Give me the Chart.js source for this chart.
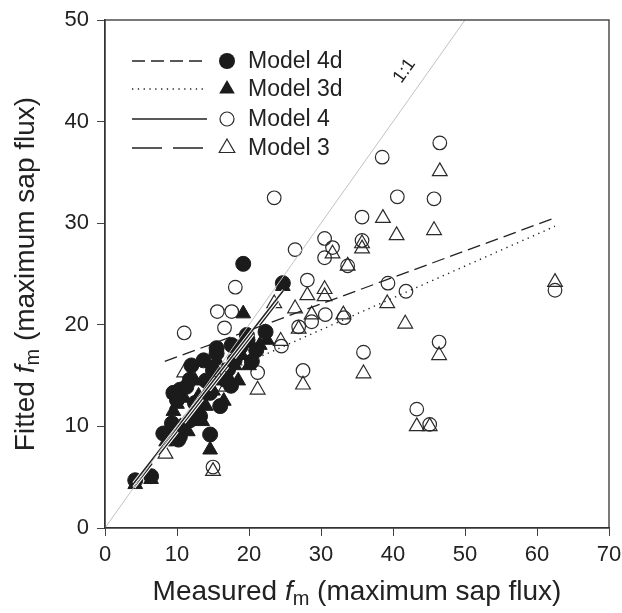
<!DOCTYPE html>
<html>
<head>
<meta charset="utf-8">
<script src="https://cdn.jsdelivr.net/npm/chart.js@4.4.1/dist/chart.umd.min.js"></script>
<style>
  html, body { margin: 0; padding: 0; background: #fff; }
  #wrap { width: 622px; height: 613px; }
</style>
</head>
<body>
<div id="wrap"><canvas id="chart" width="622" height="613"></canvas></div>
<script>
'use strict';

// Values: [measured, fitted]
var model4d = [
    [4.2, 4.7], [6.4, 5.1], [8.1, 9.3], [8.8, 9.2], [9.3, 10.3], [10.2, 8.7],
    [10.4, 9.0], [9.5, 13.3], [10.0, 12.6], [10.4, 13.6], [11.3, 13.9], [11.8, 10.6],
    [12.5, 12.3], [13.2, 11.0], [13.2, 12.6], [11.8, 14.6], [13.7, 16.5], [14.6, 13.3],
    [14.6, 9.2], [15.5, 17.2], [16.7, 14.6], [17.1, 15.6], [18.8, 17.8], [19.7, 19.0],
    [20.4, 16.4], [19.8, 18.5], [22.3, 19.3], [19.2, 26.0], [24.7, 24.1], [15.0, 15.5],
    [16.0, 12.0], [17.5, 14.0], [12.0, 16.0], [14.0, 14.5], [18.0, 16.5], [21.0, 17.5],
    [17.6, 18.0], [15.5, 17.7]
];
var model3d = [
    [4.2, 4.3], [6.4, 4.8], [19.2, 21.1], [24.7, 23.8], [14.6, 7.7], [8.5, 8.5],
    [9.5, 11.5], [10.0, 12.2], [11.0, 12.8], [12.0, 11.0], [13.0, 13.0], [14.0, 12.0],
    [15.0, 13.5], [16.0, 14.5], [17.0, 15.0], [18.0, 16.0], [19.0, 17.0], [20.0, 16.0],
    [21.5, 18.0], [22.5, 18.5], [12.5, 14.5], [15.5, 16.5], [10.5, 10.0], [9.0, 9.8],
    [11.5, 9.5], [13.5, 10.5], [16.5, 12.5], [18.5, 14.5]
];
var model4 = [
    [46.5, 37.9], [38.5, 36.5], [23.5, 32.5], [40.6, 32.6], [45.7, 32.4], [35.7, 30.6],
    [30.5, 28.5], [31.6, 27.6], [30.5, 26.6], [35.7, 28.3], [33.7, 25.8], [26.4, 27.4],
    [28.1, 24.4], [18.1, 23.7], [39.3, 24.1], [41.8, 23.3], [15.6, 21.3], [17.6, 21.3],
    [16.6, 19.7], [11.0, 19.2], [30.6, 21.0], [28.7, 20.3], [26.9, 19.8], [33.2, 20.7],
    [24.5, 17.9], [35.9, 17.3], [27.5, 15.5], [21.2, 15.3], [46.4, 18.3], [43.3, 11.7],
    [45.1, 10.2], [62.5, 23.4], [15.0, 6.0]
];
var model3 = [
    [46.5, 35.1], [38.6, 30.5], [40.5, 28.8], [45.7, 29.3], [35.7, 28.0], [35.7, 27.5],
    [31.6, 27.0], [33.7, 25.8], [30.5, 23.5], [30.5, 22.8], [28.1, 22.9], [23.5, 22.1],
    [26.4, 21.6], [28.7, 21.0], [33.1, 21.0], [26.9, 19.6], [24.4, 18.4], [39.2, 22.1],
    [41.7, 20.1], [35.9, 15.2], [27.5, 14.1], [21.2, 13.6], [16.8, 13.9], [11.0, 15.3],
    [8.4, 7.3], [15.0, 5.6], [46.4, 17.0], [43.3, 10.0], [45.1, 10.0], [62.5, 24.2]
];

// Fitted lines, start and end points
var fit4d = [[8.3, 16.4], [62.4, 30.5]];
var fit3d = [[8.6, 12.8], [62.5, 29.7]];
var fit4 = [[4.0, 4.4], [24.8, 23.4]];
var fit3 = [[4.0, 4.0], [24.4, 22.6]];
var oneToOne = [[0, 0], [50, 50]];

var legendNames = ['Model 4d', 'Model 3d', 'Model 4', 'Model 3'];
var xTicks = [0, 10, 20, 30, 40, 50, 60, 70];
var yTicks = [0, 10, 20, 30, 40, 50];

var FONT = '"Liberation Sans", Arial, Helvetica, sans-serif';
var INK = '#222';

var dashes = [[13, 6], [1.3, 4.5], [], [30, 11]];
var markers = [
    { style: 'circle', r: 7.5, fill: true },
    { style: 'triangle', r: 8.5, fill: true },
    { style: 'circle', r: 6.8, fill: false },
    { style: 'triangle', r: 8.5, fill: false }
];

function toPts(arr) {
    return arr.map(function (p) { return { x: p[0], y: p[1] }; });
}

function scatterSet(arr, i, order) {
    var m = markers[i];
    return {
        type: 'scatter',
        label: legendNames[i],
        data: toPts(arr),
        pointStyle: m.style,
        pointRadius: m.r,
        pointBorderWidth: m.fill ? 1 : 1.2,
        pointBackgroundColor: m.fill ? '#1b1b1b' : 'rgba(0,0,0,0)',
        pointBorderColor: m.fill ? '#1b1b1b' : '#2a2a2a',
        order: order
    };
}

function lineSet(arr, dash, color, width, order) {
    return {
        type: 'line',
        data: toPts(arr),
        borderColor: color,
        borderWidth: width,
        borderDash: dash,
        pointRadius: 0,
        fill: false,
        tension: 0,
        order: order
    };
}

// draws the legend, the frame, the 1:1 label and the axis titles
var decor = {
    id: 'decor',
    afterDraw: function (chart) {
        var ctx = chart.ctx;
        var a = chart.chartArea;
        var xs = chart.scales.x, ys = chart.scales.y;
        ctx.save();

        // frame
        ctx.strokeStyle = '#333';
        ctx.lineWidth = 1.3;
        ctx.setLineDash([]);
        ctx.strokeRect(a.left, a.top, a.right - a.left, a.bottom - a.top);

        // legend
        var rows = [61, 89, 119, 148];
        for (var i = 0; i < legendNames.length; i++) {
            var y = rows[i];
            ctx.strokeStyle = INK;
            ctx.lineWidth = 1.3;
            ctx.setLineDash(dashes[i]);
            ctx.beginPath();
            ctx.moveTo(132, y);
            ctx.lineTo(207, y);
            ctx.stroke();
            ctx.setLineDash([]);

            var m = markers[i];
            var mx = 227;
            ctx.beginPath();
            if (m.style === 'circle') {
                ctx.arc(mx, y, m.fill ? 8 : 7, 0, Math.PI * 2);
            } else {
                var r = 9;
                ctx.moveTo(mx, y - r);
                ctx.lineTo(mx + r * 0.866, y + r * 0.5);
                ctx.lineTo(mx - r * 0.866, y + r * 0.5);
                ctx.closePath();
            }
            if (m.fill) {
                ctx.fillStyle = '#1b1b1b';
                ctx.fill();
            } else {
                ctx.lineWidth = 1.2;
                ctx.strokeStyle = '#2a2a2a';
                ctx.stroke();
            }

            ctx.fillStyle = INK;
            ctx.font = '23px ' + FONT;
            ctx.textAlign = 'left';
            ctx.textBaseline = 'middle';
            ctx.fillText(legendNames[i], 248, y + 1);
        }

        // 1:1 label along the gray line
        var lx = xs.getPixelForValue(41.6), ly = ys.getPixelForValue(45.0);
        var ang = Math.atan2(ys.getPixelForValue(50) - ys.getPixelForValue(0),
            xs.getPixelForValue(50) - xs.getPixelForValue(0));
        ctx.save();
        ctx.translate(lx, ly);
        ctx.rotate(ang);
        ctx.font = '18px ' + FONT;
        ctx.fillStyle = INK;
        ctx.textAlign = 'center';
        ctx.textBaseline = 'middle';
        ctx.fillText('1:1', 0, 0);
        ctx.restore();

        // axis titles with italic f and subscript m
        function rich(parts, x, y, rot) {
            ctx.save();
            ctx.translate(x, y);
            ctx.rotate(rot);
            ctx.textBaseline = 'alphabetic';
            ctx.textAlign = 'left';
            ctx.fillStyle = INK;
            var total = 0;
            parts.forEach(function (p) { ctx.font = p.font; total += ctx.measureText(p.t).width; });
            var cx = -total / 2;
            parts.forEach(function (p) {
                ctx.font = p.font;
                ctx.fillText(p.t, cx, p.dy || 0);
                cx += ctx.measureText(p.t).width;
            });
            ctx.restore();
        }
        var big = '28px ' + FONT, ital = 'italic 28px ' + FONT, sub = '20px ' + FONT;
        var midX = (a.left + a.right) / 2, midY = (a.top + a.bottom) / 2;
        rich([{ t: 'Measured ', font: big }, { t: 'f', font: ital }, { t: 'm', font: sub, dy: 5 },
            { t: ' (maximum sap flux)', font: big }], midX, 600, 0);
        rich([{ t: 'Fitted ', font: big }, { t: 'f', font: ital }, { t: 'm', font: sub, dy: 5 },
            { t: ' (maximum sap flux)', font: big }], 34, midY, -Math.PI / 2);

        ctx.restore();
    }
};

var tickFont = { family: FONT, size: 22 };

new Chart(document.getElementById('chart'), {
    data: {
        datasets: [
            lineSet(oneToOne, [], '#c2c2c2', 1, 0),
            lineSet(fit4d, dashes[0], INK, 1.3, 1),
            lineSet(fit3d, dashes[1], INK, 1.4, 1),
            lineSet(fit4, dashes[2], INK, 1.5, 1),
            lineSet(fit3, dashes[3], INK, 1.3, 1),
            // white halo under the short fits, seen where they cross the dark cluster
            lineSet(fit4, [], '#fff', 3.5, 1.5),
            lineSet(fit3, [30, 11], '#fff', 3.5, 1.5),
            scatterSet(model4d, 0, 2),
            scatterSet(model3d, 1, 3),
            scatterSet(model4, 2, 4),
            scatterSet(model3, 3, 5)
        ]
    },
    options: {
        responsive: false,
        animation: false,
        events: [],
        layout: { padding: { top: 20, right: 13, left: 0, bottom: 0 } },
        plugins: {
            legend: { display: false },
            tooltip: { enabled: false }
        },
        scales: {
            x: {
                type: 'linear',
                min: 0,
                max: 70,
                afterBuildTicks: function (s) { s.ticks = xTicks.map(function (v) { return { value: v }; }); },
                afterFit: function (s) { s.height = 85; s.paddingLeft = 0; s.paddingRight = 0; },
                ticks: { font: tickFont, color: INK, padding: 6, maxRotation: 0, autoSkip: false },
                grid: { drawOnChartArea: false, drawTicks: true, tickLength: 8, color: '#444', lineWidth: 1 },
                border: { display: true, color: '#333', width: 1.3 }
            },
            y: {
                type: 'linear',
                min: 0,
                max: 50,
                afterBuildTicks: function (s) { s.ticks = yTicks.map(function (v) { return { value: v }; }); },
                afterFit: function (s) { s.width = 105; s.paddingTop = 0; s.paddingBottom = 0; },
                ticks: { font: tickFont, color: INK, padding: 8, autoSkip: false },
                grid: { drawOnChartArea: false, drawTicks: true, tickLength: 8, color: '#444', lineWidth: 1 },
                border: { display: true, color: '#333', width: 1.3 }
            }
        }
    },
    plugins: [decor]
});
</script>
</body>
</html>
